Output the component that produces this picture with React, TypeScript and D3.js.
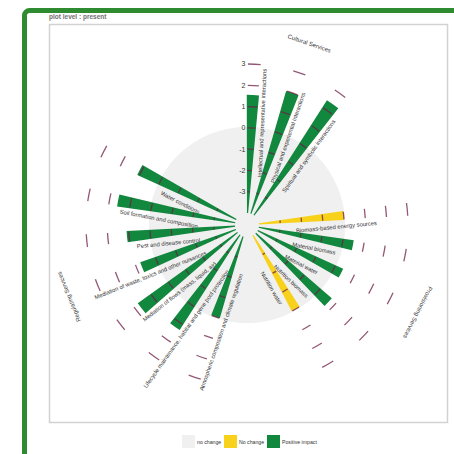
import React, { useRef, useEffect } from 'react'
import * as d3 from 'd3'

// service groups, clockwise from the top
const groupNames = ['Cultural Services', 'Provisioning Services', 'Regulating Services']
const gapSlots = [2, 2, 3] // empty slots after each group

const culturalServices = [
	'Intellectual and representative interactions',
	'Physical and experiential interactions',
	'Spiritual and symbolic interactions',
]
const culturalValues = [1.55, 2.0, 2.4]
const culturalImpact = ['positive', 'positive', 'positive']

const provisioningServices = [
	'Biomass-based energy sources',
	'Material biomass',
	'Material water',
	'Nutrition biomass',
	'Nutrition water',
]
const provisioningValues = [0, 0.5, 0.4, 0.7, 0]
const provisioningImpact = ['none', 'positive', 'positive', 'positive', 'none']

const regulatingServices = [
	'Atmospheric composition and climate regulation',
	'Lifecycle maintenance, habitat and gene pool protection',
	'Mediation of flows (mass, liquid, air)',
	'Mediation of waste, toxics and other nuisances',
	'Pest and disease control',
	'Soil formation and composition',
	'Water conditions',
]
const regulatingValues = [0, 1.3, 1.75, 0.75, 1.1, 1.6, 1.1]
const regulatingImpact = ['positive', 'positive', 'positive', 'positive', 'positive', 'positive', 'positive']

const tickValues = [-3, -2, -1, 0, 1, 2, 3]
const legendLabels = ['no change', 'No change', 'Positive impact']

const colors: Record<string, string> = {
	empty: '#f0f0f0',
	none: '#f8d11b',
	positive: '#12873e',
}
const legendKeys = ['empty', 'none', 'positive']

type Row = { name: string; value: number; impact: string; group: number }

const App = () => {
	const svgRef = useRef<SVGSVGElement | null>(null)

	//svg size + chart centre
	const svgWidth = 454,
		svgHeight = 454
	const cx = 247,
		cy = 225

	useEffect(() => {
		const svg = d3.select(svgRef.current)
		svg.selectAll('*').remove()

		const names = [culturalServices, provisioningServices, regulatingServices]
		const values = [culturalValues, provisioningValues, regulatingValues]
		const impacts = [culturalImpact, provisioningImpact, regulatingImpact]

		const rows: Row[] = []
		const slots: string[] = []
		names.forEach((list, g) => {
			list.forEach((n, i) => {
				rows.push({ name: n, value: values[g][i], impact: impacts[g][i], group: g })
				slots.push(n)
			})
			for (let k = 0; k < gapSlots[g]; k++) slots.push('gap-' + g + '-' + k)
		})

		const step = (2 * Math.PI) / slots.length
		const start = (2.6 * Math.PI) / 180 - step / 2
		const x = d3
			.scaleBand()
			.domain(slots)
			.range([start, start + 2 * Math.PI])
			.paddingInner(0.67)
			.paddingOuter(0.335)

		const y = d3.scaleLinear().domain([-4, 3]).range([12, 161])

		const mid = (n: string) => x(n)! + x.bandwidth() / 2
		const deg = (a: number) => (a * 180) / Math.PI

		// green frame + plot box
		svg
			.append('rect')
			.attr('x', 24.5)
			.attr('y', 10.5)
			.attr('width', 470)
			.attr('height', 470)
			.attr('rx', 5)
			.attr('fill', '#fff')
			.attr('stroke', '#2e8b2f')
			.attr('stroke-width', 5)

		svg
			.append('text')
			.attr('x', 49)
			.attr('y', 19)
			.text('plot level : present')
			.style('font-family', 'Liberation Sans, Arial, sans-serif')
			.style('font-size', '6.5px')
			.style('font-weight', 'bold')
			.style('fill', '#707070')

		svg
			.append('rect')
			.attr('x', 49.5)
			.attr('y', 24.5)
			.attr('width', 398)
			.attr('height', 398)
			.attr('fill', '#fff')
			.attr('stroke', '#d2d2d2')
			.attr('stroke-width', 1.5)

		const g = svg.append('g').attr('transform', `translate(${cx},${cy})`)

		// "no change" disc
		g.append('circle').attr('r', y(0) + 1).attr('fill', colors.empty)

		// labels beside the bars
		g.selectAll('text.label')
			.data(rows)
			.enter()
			.append('text')
			.attr('class', 'label')
			.attr('transform', (d) => {
				const a = deg(mid(d.name))
				const flip = a > 180 ? ' rotate(180)' : ''
				return `rotate(${a - 90}) translate(${y(-2.3)},0)${flip}`
			})
			.attr('y', 12.5)
			.attr('text-anchor', (d) => (deg(mid(d.name)) > 180 ? 'end' : 'start'))
			.text((d) => d.name)
			.style('font-family', 'Liberation Sans, Arial, sans-serif')
			.style('font-size', '5.8px')
			.style('fill', '#333')

		const arc = d3
			.arc<Row>()
			.innerRadius(y(-4))
			.outerRadius((d) => y(d.value))
			.startAngle((d) => x(d.name)!)
			.endAngle((d) => x(d.name)! + x.bandwidth())

		g.selectAll('path.bar')
			.data(rows)
			.enter()
			.append('path')
			.attr('class', 'bar')
			.attr('d', arc)
			.attr('fill', (d) => colors[d.impact])

		// level marks on every service (short arcs)
		const half = (x.bandwidth() * 0.84) / 2
		const markArc = d3
			.arc<{ a: number; t: number }>()
			.innerRadius((m) => y(m.t) - 0.65)
			.outerRadius((m) => y(m.t) + 0.65)
			.startAngle((m) => m.a - half)
			.endAngle((m) => m.a + half)
		const marks = rows.flatMap((d) => tickValues.map((t) => ({ a: mid(d.name), t })))
		g.selectAll('path.mark')
			.data(marks)
			.enter()
			.append('path')
			.attr('class', 'mark')
			.attr('d', markArc)
			.attr('fill', '#6e1f47')
			.attr('fill-opacity', 0.75)

		// radial axis numbers
		g.selectAll('text.tick')
			.data(tickValues)
			.enter()
			.append('text')
			.attr('class', 'tick')
			.attr('x', -1.5)
			.attr('y', (t) => -y(t))
			.attr('dy', '0.35em')
			.attr('text-anchor', 'end')
			.text((t) => t)
			.style('font-family', 'Liberation Sans, Arial, sans-serif')
			.style('font-size', '7px')
			.style('fill', '#333')

		// group titles round the outside
		g.selectAll('text.group')
			.data(groupNames)
			.enter()
			.append('text')
			.attr('class', 'group')
			.attr('transform', (n, i) => {
				const list = rows.filter((r) => r.group === i)
				const a = (mid(list[0].name) + mid(list[list.length - 1].name)) / 2
				const r = 192
				return `translate(${Math.sin(a) * r},${-Math.cos(a) * r}) rotate(${deg(a)})`
			})
			.attr('text-anchor', 'middle')
			.attr('dy', '0.35em')
			.text((n) => n)
			.style('font-family', 'Liberation Sans, Arial, sans-serif')
			.style('font-size', '6px')
			.style('fill', '#333')

		// legend
		const legendX = [182, 224, 267]
		const legend = svg
			.selectAll('g.legend')
			.data(legendLabels)
			.enter()
			.append('g')
			.attr('class', 'legend')
			.attr('transform', (d, i) => `translate(${legendX[i]},435)`)
		legend
			.append('rect')
			.attr('width', 13)
			.attr('height', 13)
			.attr('fill', (d, i) => colors[legendKeys[i]])
		legend
			.append('text')
			.attr('x', 15)
			.attr('y', 8.5)
			.text((d) => d)
			.style('font-family', 'Liberation Sans, Arial, sans-serif')
			.style('font-size', '5.2px')
			.style('fill', '#333')
	}, [])

	return (
		<svg
			ref={svgRef}
			width={svgWidth}
			height={svgHeight}
			style={{ position: 'absolute', left: 0, top: 0 }}
		></svg>
	)
}

export default App
